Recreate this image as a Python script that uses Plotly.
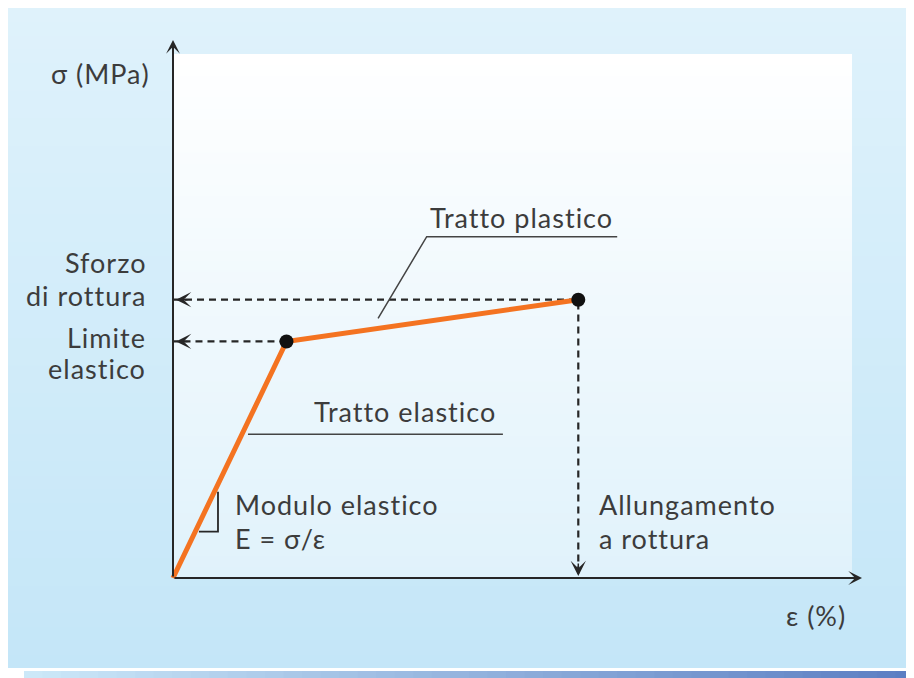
import plotly.graph_objects as go

# stress-strain curve: origin, elastic limit, rupture
strain = [0.0, 1.4, 5.0]        # ε (%)
stress = [0.0, 255.0, 300.0]    # σ (MPa)
point_labels = ["Limite elastico", "Sforzo di rottura"]

axis_max_strain = 8.5
axis_max_stress = 580.0

# page geometry (pixels, the browser adds an 8px body margin around the figure)
W, H = 906, 670
ORIGIN_X, ORIGIN_Y = 165, 570
PX_PER_EPS = 689 / axis_max_strain
PX_PER_SIG = 538 / axis_max_stress

TEXT = "#3c3c3c"
INK = "#262626"
ORANGE = "#f47321"
FONT = "Lato, 'Open Sans', sans-serif"


def _hex(c):
    c = c.lstrip("#")
    return [int(c[i:i + 2], 16) for i in (0, 2, 4)]


def _mix(c0, c1, t):
    a, b = _hex(c0), _hex(c1)
    return "#" + "".join(f"{round(a[i] + (b[i] - a[i]) * t):02x}" for i in range(3))


def gradient(x0, x1, y0, y1, c0, c1, steps=48, horizontal=False):
    """Rects in page pixels faking a linear gradient (shapes can't do gradients)."""
    shapes = []
    for i in range(steps):
        t0, t1 = i / steps, (i + 1) / steps
        color = _mix(c0, c1, (i + 0.5) / steps)
        if horizontal:
            xa, xb = x0 + (x1 - x0) * t0, x0 + (x1 - x0) * t1 + 1
            ya, yb = y0, y1
        else:
            xa, xb = x0, x1
            ya, yb = y0 + (y1 - y0) * t0, y0 + (y1 - y0) * t1 + 1
        shapes.append(dict(
            type="rect", xref="paper", yref="paper", layer="below",
            x0=xa / W, x1=min(xb, x1) / W, y0=1 - ya / H, y1=1 - min(yb, y1) / H,
            fillcolor=color, line_width=0,
        ))
    return shapes


def label(text, x, y, anchor="left", size=27):
    return dict(x=x, y=y, xref="x", yref="y",
                text=f'<span style="letter-spacing:1px">{text}</span>', showarrow=False,
                xanchor=anchor, yanchor="middle",
                font=dict(family=FONT, size=size, color=TEXT))


fig = go.Figure()

# dashed guides from the two points to the axes
fig.add_trace(go.Scatter(x=[strain[1], 0], y=[stress[1], stress[1]], mode="lines",
                         line=dict(color=INK, width=2.2, dash="7px,5px"), hoverinfo="skip"))
fig.add_trace(go.Scatter(x=[0, strain[2], strain[2]], y=[stress[2], stress[2], 0], mode="lines",
                         line=dict(color=INK, width=2.2, dash="7px,5px"), hoverinfo="skip"))

# leader lines for the segment labels
fig.add_trace(go.Scatter(x=[2.53, 3.13, 5.48], y=[280, 368, 368], mode="lines",
                         line=dict(color="#444444", width=1.5), hoverinfo="skip"))
fig.add_trace(go.Scatter(x=[0.925, 4.07], y=[155, 155], mode="lines",
                         line=dict(color="#444444", width=1.5), hoverinfo="skip"))
# slope triangle on the elastic segment
fig.add_trace(go.Scatter(x=[0.32, 0.555, 0.555], y=[50, 50, 93], mode="lines",
                         line=dict(color=INK, width=1.8), hoverinfo="skip"))

# the curve
fig.add_trace(go.Scatter(x=strain, y=stress, mode="lines",
                         line=dict(color=ORANGE, width=5), hoverinfo="skip"))
fig.add_trace(go.Scatter(x=strain[1:], y=stress[1:], mode="markers", text=point_labels,
                         marker=dict(color="#111111", size=14), hoverinfo="text"))

shapes = []
shapes += gradient(0, W, 0, 660, "#dff2fb", "#c4e6f8")                 # outer blue panel
shapes += gradient(ORIGIN_X, 844, 46, ORIGIN_Y, "#ffffff", "#e0f2fb")  # inner plot panel
shapes += gradient(16, W, 663, H, "#cde9f9", "#5a7dc2", horizontal=True)  # bottom bar

arrow = dict(xref="x", yref="y", axref="x", ayref="y", text="", showarrow=True,
             arrowhead=3, arrowsize=1.15, arrowwidth=2, arrowcolor=INK)
small = dict(xref="x", yref="y", text="", showarrow=True,
             arrowhead=3, arrowsize=1.7, arrowwidth=1.5, arrowcolor=INK, standoff=3)

annotations = [
    dict(arrow, x=axis_max_strain, y=0, ax=0, ay=0),
    dict(arrow, x=0, y=axis_max_stress, ax=0, ay=0),
    dict(small, x=0, y=stress[1], ax=16, ay=0),
    dict(small, x=0, y=stress[2], ax=16, ay=0),
    dict(small, x=strain[2], y=0, ax=0, ay=-16, standoff=2),
    label("σ (MPa)", -0.26, 544, "right"),
    label("ε (%)", 8.33, -40, "right"),
    label("Sforzo", -0.31, 340, "right"),
    label("di rottura", -0.31, 305, "right"),
    label("Limite", -0.31, 259, "right"),
    label("elastico", -0.31, 226, "right"),
    label("Tratto plastico", 3.15, 389),
    label("Tratto elastico", 4.01, 179, "right"),
    label("Modulo elastico", 0.74, 79),
    label("E = σ/ε", 0.74, 43),
    label("Allungamento", 5.23, 79),
    label("a rottura", 5.23, 43),
]

fig.update_layout(
    width=W, height=H,
    margin=dict(l=0, r=0, t=0, b=0),
    paper_bgcolor="white", plot_bgcolor="white",
    showlegend=False,
    shapes=shapes,
    annotations=annotations,
    xaxis=dict(visible=False, fixedrange=True,
               range=[-ORIGIN_X / PX_PER_EPS, (W - ORIGIN_X) / PX_PER_EPS]),
    yaxis=dict(visible=False, fixedrange=True,
               range=[-(H - ORIGIN_Y) / PX_PER_SIG, ORIGIN_Y / PX_PER_SIG]),
)

fig.write_html("out.html", config={"displayModeBar": False})
